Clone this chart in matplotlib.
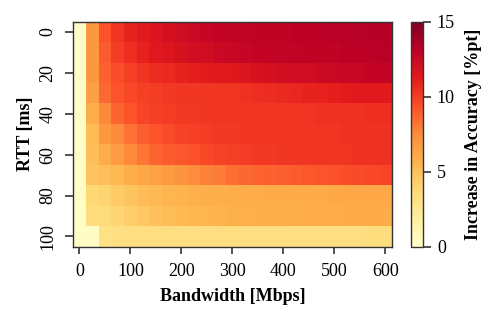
import numpy as np
import matplotlib
matplotlib.use("Agg")
import matplotlib.pyplot as plt

plt.rcParams['font.family'] = ['Liberation Serif', 'DejaVu Serif']
plt.rcParams['mathtext.fontset'] = 'stix'

bandwidth = np.arange(0, 601, 25)   # Mbps, column centres
rtt = np.arange(0, 101, 10)         # ms, row centres

# increase in accuracy [%pt], one list per RTT row
row_0 = [0.3, 7.0, 9.3, 10.3, 10.9, 11.2, 11.6, 12.0, 12.3, 12.5, 12.7, 12.8, 12.9, 12.9, 13.0, 13.0, 13.0, 13.1, 13.1, 13.1, 13.2, 13.2, 13.2, 13.3, 13.3]
row_10 = [0.3, 7.0, 9.0, 10.0, 10.5, 11.0, 11.4, 11.6, 11.8, 12.1, 12.3, 12.5, 12.6, 12.7, 12.8, 12.8, 12.9, 12.9, 13.0, 13.0, 13.0, 13.1, 13.1, 13.1, 13.2]
row_20 = [0.3, 7.0, 8.8, 9.4, 9.9, 10.3, 10.6, 10.7, 10.9, 11.1, 11.2, 11.3, 11.4, 11.6, 11.8, 12.0, 12.1, 12.2, 12.3, 12.4, 12.5, 12.6, 12.7, 12.8, 12.8]
row_30 = [0.3, 6.6, 8.6, 9.2, 9.6, 9.9, 10.0, 10.1, 10.2, 10.2, 10.3, 10.3, 10.3, 10.4, 10.5, 10.6, 10.7, 10.8, 10.9, 11.0, 11.1, 11.2, 11.3, 11.3, 11.3]
row_40 = [0.3, 5.9, 7.6, 8.7, 9.2, 9.7, 9.9, 10.0, 10.1, 10.1, 10.2, 10.2, 10.2, 10.2, 10.3, 10.3, 10.3, 10.3, 10.3, 10.4, 10.4, 10.4, 10.4, 10.5, 10.5]
row_50 = [0.3, 5.2, 7.0, 7.6, 8.3, 8.9, 9.2, 9.5, 9.8, 9.9, 10.0, 10.1, 10.1, 10.2, 10.2, 10.2, 10.2, 10.3, 10.3, 10.3, 10.3, 10.4, 10.4, 10.4, 10.4]
row_60 = [0.3, 5.0, 6.0, 6.8, 7.6, 8.2, 8.7, 9.0, 9.1, 9.3, 9.6, 9.8, 9.9, 10.0, 10.1, 10.1, 10.2, 10.2, 10.2, 10.3, 10.3, 10.3, 10.4, 10.4, 10.4]
row_70 = [0.3, 4.8, 5.0, 5.3, 5.8, 6.2, 6.5, 6.8, 7.1, 7.5, 7.8, 8.0, 8.4, 8.6, 8.7, 8.8, 8.9, 9.0, 9.1, 9.2, 9.3, 9.4, 9.5, 9.6, 9.7]
row_80 = [0.3, 3.8, 4.0, 4.4, 4.8, 5.1, 5.3, 5.5, 5.6, 5.7, 5.8, 5.8, 5.9, 5.9, 5.9, 6.0, 6.0, 6.0, 6.0, 6.0, 6.1, 6.1, 6.1, 6.1, 6.1]
row_90 = [0.3, 3.4, 3.5, 3.9, 4.3, 4.6, 4.9, 5.1, 5.3, 5.4, 5.5, 5.6, 5.7, 5.7, 5.8, 5.8, 5.8, 5.9, 5.9, 5.9, 5.9, 6.0, 6.0, 6.0, 6.0]
row_100 = [0.3, 0.3, 3.1, 3.2, 3.2, 3.3, 3.3, 3.3, 3.3, 3.3, 3.3, 3.3, 3.3, 3.3, 3.3, 3.3, 3.3, 3.3, 3.3, 3.3, 3.3, 3.3, 3.3, 3.4, 3.4]

acc = np.array([row_0, row_10, row_20, row_30, row_40, row_50, row_60,
                row_70, row_80, row_90, row_100])

x_ticks = [0, 100, 200, 300, 400, 500, 600]
y_ticks = [0, 20, 40, 60, 80, 100]
cbar_ticks = [0, 5, 10, 15]

fs = 13

fig = plt.figure(figsize=(4.98, 3.21), dpi=100)
ax = fig.add_axes([0.1466, 0.2315, 0.64, 0.701])
cax = fig.add_axes([0.8253, 0.2315, 0.0241, 0.701])

mesh = ax.pcolormesh(bandwidth, rtt, acc, cmap='YlOrRd', vmin=0, vmax=15,
                     shading='nearest')
ax.invert_yaxis()

ax.set_xticks(x_ticks)
ax.set_yticks(y_ticks)
ax.set_yticklabels([str(t) for t in y_ticks], rotation=90, va='center')
ax.tick_params(axis='x', labelsize=fs, length=5, width=1.1, pad=7, color='#222222')
ax.tick_params(axis='y', labelsize=fs, length=5.8, width=1.1, pad=6, color='#222222')
for s in ax.spines.values():
    s.set_linewidth(1)
    s.set_color('#333333')

ax.set_xlabel('Bandwidth [Mbps]', fontsize=fs, fontweight='bold', labelpad=5.5)
ax.set_ylabel('RTT [ms]', fontsize=fs, fontweight='bold', labelpad=4)

cb = fig.colorbar(mesh, cax=cax)
cb.set_ticks(cbar_ticks)
cb.ax.tick_params(labelsize=fs, length=6, width=1.1, pad=4, color='#222222')
cb.outline.set_linewidth(1)
cb.outline.set_edgecolor('#333333')
cb.set_label('Increase in Accuracy [%pt]', fontsize=fs, fontweight='bold',
             labelpad=7)

fig.savefig('out.png', dpi=100)
